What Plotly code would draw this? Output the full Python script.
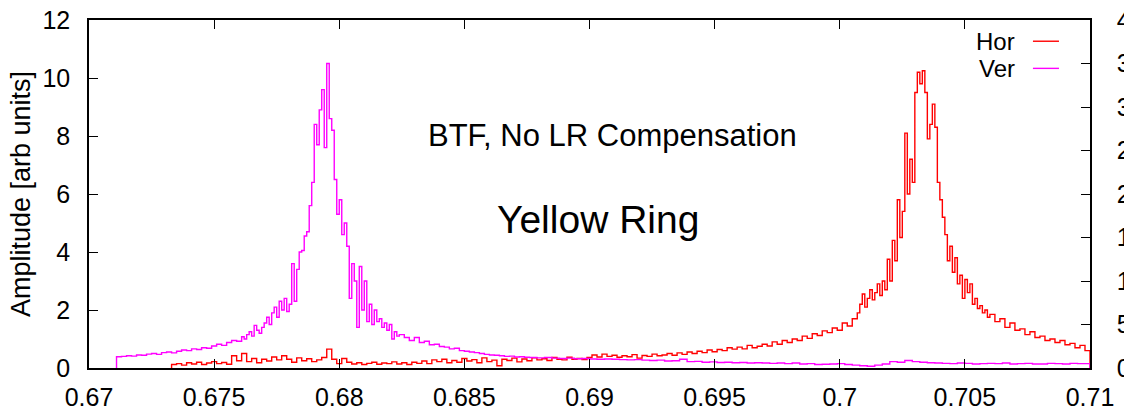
import plotly.graph_objects as go

# ---------------- data ----------------
ver_x = [0.6711, 0.6711, 0.6713, 0.6715, 0.6717, 0.6719, 0.6721, 0.6723, 0.6725, 0.6727, 0.6729,
         0.6731, 0.6733, 0.6735, 0.6737, 0.6739, 0.6741, 0.6743, 0.6745, 0.6747, 0.6749,
         0.6751, 0.6753, 0.6755, 0.6757, 0.6759,
         0.6761, 0.6762, 0.6763, 0.6764, 0.6765, 0.6766, 0.6767, 0.6768, 0.6769, 0.6770,
         0.6771, 0.6772, 0.6773, 0.6774, 0.6775, 0.6776, 0.6777, 0.6778, 0.6779, 0.6780,
         0.6781, 0.6782, 0.6783, 0.6784, 0.6785, 0.6786, 0.6787, 0.6788, 0.6789, 0.6790,
         0.6791, 0.6792, 0.6793, 0.6794, 0.6795, 0.6796, 0.6797, 0.6798, 0.6799, 0.6800,
         0.6801, 0.6802, 0.6803, 0.6804, 0.6805, 0.6806, 0.6807, 0.6808, 0.6809, 0.6810,
         0.6811, 0.6812, 0.6813, 0.6814, 0.6815, 0.6816, 0.6817, 0.6818, 0.6819, 0.6820,
         0.6821, 0.6822, 0.6823, 0.6824,
         0.6826, 0.6828, 0.6830, 0.6832, 0.6834, 0.6836, 0.6838, 0.6840, 0.6842, 0.6844,
         0.6846, 0.6848, 0.6850, 0.6852, 0.6854, 0.6856, 0.6858, 0.6860, 0.6862, 0.6864,
         0.6866, 0.6868, 0.6870, 0.6872, 0.6874, 0.6876,
         0.6879, 0.6882, 0.6885, 0.6888, 0.6891, 0.6894, 0.6897, 0.6900, 0.6903, 0.6906,
         0.6909, 0.6912, 0.6915, 0.6918, 0.6921, 0.6924, 0.6927, 0.6930, 0.6933, 0.6936,
         0.6939, 0.6942, 0.6945, 0.6948, 0.6951, 0.6954, 0.6957, 0.6960, 0.6963, 0.6966,
         0.6969, 0.6972, 0.6975, 0.6978, 0.6981, 0.6984, 0.6987, 0.6990, 0.6993, 0.6996,
         0.6999, 0.7002, 0.7005, 0.7008, 0.7011, 0.7014, 0.7017, 0.7020, 0.7023, 0.7026,
         0.7029, 0.7032, 0.7035, 0.7038, 0.7041, 0.7044, 0.7047, 0.7050, 0.7053, 0.7056,
         0.7059, 0.7062, 0.7065, 0.7068, 0.7071, 0.7074, 0.7077, 0.7080, 0.7083, 0.7086,
         0.7089, 0.7092, 0.7095, 0.7098, 0.7100]
ver_y = [0.0, 0.39, 0.40, 0.42, 0.41, 0.45, 0.44, 0.48, 0.50, 0.47, 0.53,
         0.55, 0.52, 0.58, 0.62, 0.60, 0.66, 0.64, 0.70, 0.68, 0.76,
         0.82, 0.78, 0.88, 0.95, 0.92,
         1.08, 1.00, 1.15, 1.25, 1.10, 1.47, 1.30, 1.20, 1.40, 1.55,
         1.75, 1.50, 1.90, 2.10, 1.75, 2.30, 2.00, 2.40, 1.95, 2.20,
         3.60, 2.30, 3.40, 4.00, 4.05, 4.55, 4.70, 5.60, 6.40, 8.40,
         7.70, 8.90, 9.60, 7.60, 10.50, 8.60, 8.20, 6.50, 5.30, 5.80,
         4.60, 5.00, 4.20, 2.40, 3.60, 3.00, 1.40, 3.50, 2.00, 3.00,
         1.60, 2.20, 1.50, 2.00, 1.60, 1.70, 1.40, 1.55, 1.30, 1.50,
         1.00, 1.25, 1.10, 1.15,
         1.05, 0.95, 1.05, 0.88, 0.92, 0.80, 0.82, 0.74, 0.72, 0.66,
         0.68, 0.60, 0.58, 0.55, 0.53, 0.50, 0.47, 0.45, 0.44, 0.42,
         0.40, 0.41, 0.38, 0.39, 0.37, 0.36,
         0.35, 0.36, 0.34, 0.33, 0.34, 0.32, 0.33, 0.31, 0.30, 0.31,
         0.30, 0.29, 0.28, 0.29, 0.27, 0.26, 0.27, 0.24, 0.25, 0.30,
         0.22, 0.23, 0.20, 0.21, 0.19, 0.20, 0.18, 0.19, 0.17, 0.18,
         0.17, 0.16, 0.17, 0.15, 0.17, 0.14, 0.15, 0.12, 0.13, 0.14,
         0.15, 0.12, 0.10, 0.08, 0.06, 0.10, 0.14, 0.22, 0.20, 0.26,
         0.22, 0.20, 0.18, 0.17, 0.16, 0.15, 0.17, 0.16, 0.14, 0.15,
         0.16, 0.15, 0.17, 0.14, 0.15, 0.16, 0.14, 0.14, 0.16, 0.15,
         0.14, 0.16, 0.15, 0.15, 0.0]

hor_x = [0.6733, 0.6733, 0.6735, 0.6737, 0.6739, 0.6741, 0.6743, 0.6745, 0.6747, 0.6749,
         0.6751, 0.6753, 0.6755, 0.6757, 0.6759, 0.6761, 0.6763, 0.6765, 0.6767, 0.6769,
         0.6771, 0.6773, 0.6775, 0.6777, 0.6779, 0.6781, 0.6783, 0.6785, 0.6787, 0.6789,
         0.6791, 0.6793, 0.6795, 0.6797, 0.6799, 0.6801, 0.6803, 0.6805, 0.6807, 0.6809,
         0.6811, 0.6813, 0.6815, 0.6817, 0.6819, 0.6821, 0.6823, 0.6825, 0.6827, 0.6829,
         0.6831, 0.6833, 0.6835, 0.6837, 0.6839, 0.6841, 0.6843, 0.6845, 0.6847, 0.6849,
         0.6851, 0.6853, 0.6855, 0.6857, 0.6859, 0.6861, 0.6863, 0.6865, 0.6867, 0.6869,
         0.6871, 0.6873, 0.6875, 0.6877, 0.6879,
         0.6881, 0.6883, 0.6885, 0.6887, 0.6889, 0.6891, 0.6893, 0.6895, 0.6897, 0.6899,
         0.6901, 0.6903, 0.6905, 0.6907, 0.6909, 0.6911, 0.6913, 0.6915, 0.6917, 0.6919,
         0.6921, 0.6923, 0.6925, 0.6927, 0.6929, 0.6931, 0.6933, 0.6935, 0.6937, 0.6939,
         0.6941, 0.6943, 0.6945, 0.6947, 0.6949, 0.6951, 0.6953, 0.6955, 0.6957, 0.6959,
         0.6961, 0.6963, 0.6965, 0.6967, 0.6969, 0.6971, 0.6973, 0.6975, 0.6977, 0.6979,
         0.6981, 0.6983, 0.6985, 0.6987, 0.6989, 0.6991, 0.6993, 0.6995, 0.6997, 0.6999,
         0.7001, 0.7003, 0.7005, 0.7007,
         0.7008, 0.7009, 0.7010, 0.7011, 0.7012, 0.7013, 0.7014, 0.7015, 0.7016, 0.7017,
         0.7018, 0.7019, 0.7020, 0.7021, 0.7022, 0.7023, 0.7024, 0.7025, 0.7026, 0.7027,
         0.7028, 0.7029, 0.7030, 0.7031, 0.7032, 0.7033, 0.7034, 0.7035, 0.7036, 0.7037,
         0.7038, 0.7039, 0.7040, 0.7041, 0.7042, 0.7043, 0.7044, 0.7045, 0.7046, 0.7047,
         0.7048, 0.7049, 0.7050, 0.7051, 0.7052, 0.7053, 0.7054, 0.7055, 0.7056, 0.7057,
         0.7058, 0.7059, 0.7060,
         0.7062, 0.7064, 0.7066, 0.7068, 0.7070, 0.7072, 0.7074, 0.7076, 0.7078, 0.7080,
         0.7082, 0.7084, 0.7086, 0.7088, 0.7090, 0.7092, 0.7094, 0.7096, 0.7098, 0.7100]
hor_y = [0.0, 0.12, 0.15, 0.10, 0.18, 0.14, 0.20, 0.12, 0.17, 0.22,
         0.15, 0.19, 0.13, 0.42, 0.25, 0.50, 0.22, 0.33, 0.18, 0.30,
         0.24, 0.38, 0.28, 0.42, 0.30, 0.20, 0.35, 0.25, 0.32, 0.22,
         0.28, 0.36, 0.65, 0.30, 0.15, 0.33, 0.20, 0.14, 0.18, 0.12,
         0.16, 0.20, 0.13, 0.17, 0.15, 0.21, 0.14, 0.18, 0.12, 0.20,
         0.16, 0.24, 0.15, 0.28, 0.22, 0.30, 0.18, 0.26, 0.20, 0.33,
         0.24, 0.29, 0.18, 0.35, 0.22, 0.27, 0.08, 0.30, 0.26, 0.34,
         0.21, 0.31, 0.25, 0.35, 0.28,
         0.32, 0.26, 0.36, 0.30, 0.28, 0.37, 0.30, 0.33, 0.29, 0.36,
         0.45, 0.38, 0.48, 0.40, 0.44, 0.37, 0.42, 0.39, 0.46, 0.34,
         0.43, 0.40, 0.48, 0.42, 0.45, 0.50, 0.44, 0.52, 0.47, 0.55,
         0.50, 0.58, 0.53, 0.62, 0.56, 0.64, 0.60, 0.70, 0.65, 0.72,
         0.66, 0.78, 0.70, 0.75, 0.82, 0.76, 0.90, 0.82, 0.95, 0.88,
         1.00, 0.95, 1.10, 1.02, 1.18, 1.12, 1.28, 1.22, 1.38, 1.30,
         1.55, 1.45, 1.70, 1.90,
         2.20, 2.55, 2.10, 2.40, 2.70, 2.35, 2.60, 2.90, 2.50, 3.00,
         2.70, 3.75, 3.00, 4.40, 3.70, 5.80, 4.50, 5.40, 8.10, 6.00,
         7.20, 6.40, 9.50, 10.20, 9.80, 10.25, 9.50, 7.90, 8.40, 9.10,
         8.30, 6.40, 5.80, 5.20, 4.60, 3.70, 4.20, 3.30, 3.80, 2.90,
         3.20, 2.40, 3.05, 2.60, 2.90, 2.20, 2.40, 2.05, 2.15, 1.90,
         2.00, 1.75, 1.85,
         1.60, 1.70, 1.40, 1.55, 1.30, 1.35, 1.15, 1.25, 1.05, 1.10,
         0.95, 1.00, 0.88, 0.95, 0.80, 0.85, 0.70, 0.78, 0.60, 0.0]

x_range = [0.67, 0.71]
x_ticks = [0.67, 0.675, 0.68, 0.685, 0.69, 0.695, 0.7, 0.705, 0.71]
x_ticktext = ["0.67", "0.675", "0.68", "0.685", "0.69", "0.695", "0.7", "0.705", "0.71"]
y_range = [0, 12]
y2_range = [0, 4000]

FONT = "Liberation Sans, Arial, Helvetica, sans-serif"

fig = go.Figure()
fig.add_trace(go.Scatter(x=hor_x, y=hor_y, mode="lines", name="Hor",
                         line=dict(color="#ff0000", width=1.4, shape="hv"), showlegend=False))
fig.add_trace(go.Scatter(x=ver_x, y=ver_y, mode="lines", name="Ver",
                         line=dict(color="#ff00ff", width=1.4, shape="hv"), showlegend=False))
# empty trace so the secondary (right) axis is drawn
fig.add_trace(go.Scatter(x=[None], y=[None], yaxis="y2", showlegend=False, hoverinfo="skip"))

fig.update_layout(
    width=1124, height=409,
    margin=dict(l=89, r=34, t=20, b=41, autoexpand=False),
    paper_bgcolor="white", plot_bgcolor="white",
    font=dict(family=FONT, size=25, color="black"),
    xaxis=dict(range=x_range, tickvals=x_ticks, ticktext=x_ticktext,
               ticks="inside", ticklen=9, tickwidth=1.2, tickcolor="black",
               showline=True, linecolor="black", linewidth=1.5, mirror="ticks",
               showgrid=False, zeroline=False, ticklabelstandoff=6, automargin=False),
    yaxis=dict(range=y_range, dtick=2, ticks="inside", ticklen=9, tickwidth=1.2,
               tickcolor="black", showline=True, linecolor="black", linewidth=1.5,
               mirror=True, showgrid=False, zeroline=False, ticklabelstandoff=12,
               automargin=False,
               title=dict(text="Amplitude [arb units]", font=dict(size=27), standoff=4)),
    yaxis2=dict(range=y2_range, dtick=500, overlaying="y", side="right", anchor="x",
                ticks="inside", ticklen=9, tickwidth=1.2, tickcolor="black",
                showline=True, linecolor="black", linewidth=1.5, automargin=False,
                showgrid=False, zeroline=False, ticklabelstandoff=20),
)

# text labels inside the plot
fig.add_annotation(x=0.523, y=0.669, xref="paper", yref="paper", text="BTF, No LR Compensation",
                   showarrow=False, font=dict(size=31), xanchor="center", yanchor="middle")
fig.add_annotation(x=0.508, y=0.427, xref="paper", yref="paper", text="Yellow Ring",
                   showarrow=False, font=dict(size=39), xanchor="center", yanchor="middle")

# gnuplot-style key: text on the left, line sample on the right
key_labels = ["Hor", "Ver"]
key_colors = ["#ff0000", "#ff00ff"]
key_rows = [0.939, 0.861]
for lab, col, yy in zip(key_labels, key_colors, key_rows):
    fig.add_annotation(x=0.927, y=yy, xref="paper", yref="paper", text=lab, showarrow=False,
                       font=dict(size=24), xanchor="right", yanchor="middle")
    fig.add_shape(type="line", xref="paper", yref="paper", x0=0.943, x1=0.969, y0=yy, y1=yy,
                  line=dict(color=col, width=1.4))

fig.write_html("out.html")
